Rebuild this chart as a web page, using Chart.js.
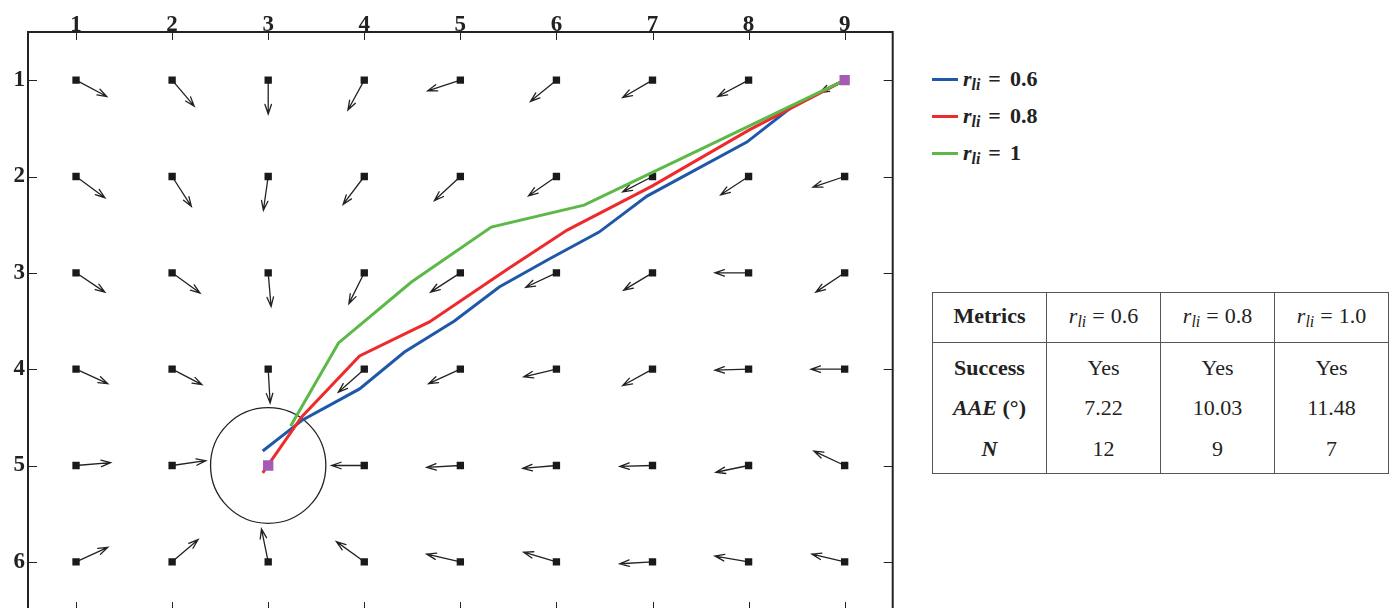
<!DOCTYPE html>
<html><head><meta charset="utf-8">
<script src="https://cdn.jsdelivr.net/npm/chart.js@4"></script>
<style>
html,body{margin:0;padding:0;width:1392px;height:608px;overflow:hidden;background:#fff;}
#wrap{position:absolute;left:0;top:0;width:900px;height:640px;}
.leg{position:absolute;left:932px;font:bold 22px 'Liberation Serif','Times New Roman',Times,serif;color:#222;height:24px;line-height:24px;white-space:nowrap;}
.leg .sw{display:inline-block;width:26px;height:3px;vertical-align:middle;margin-right:5px;position:relative;top:-1px;}
.leg sub,#tbl sub{font-size:0.72em;font-style:italic;vertical-align:-0.25em;line-height:0;}
.leg .eq{margin:0 9px 0 8px;font-weight:bold;}
#tbl{position:absolute;left:932px;top:292px;border-collapse:collapse;font:22px 'Liberation Serif','Times New Roman',Times,serif;color:#222;}
#tbl td{border-left:1px solid #555;border-right:1px solid #555;text-align:center;padding:0;width:113px;}
#tbl tr.h td{height:45px;padding-bottom:4px;border-top:1px solid #555;border-bottom:1px solid #555;}
#tbl tr.r1 td{height:42px;padding-top:4px;}
#tbl tr.r2 td{height:38px;padding-bottom:2px;}
#tbl tr.r3 td{height:40px;padding-bottom:4px;border-bottom:1px solid #555;}
#tbl .b{font-weight:bold;}
#tbl .eq{margin:0 6px;}
</style></head>
<body>
<div id="wrap"><canvas id="c" width="900" height="640"></canvas></div>
<div id="legend"></div>
<table id="tbl"></table>
<script>
// ---- data ----
const xCats = [1,2,3,4,5,6,7,8,9];
const yCats = [1,2,3,4,5,6];
// arrow components (data units) per row (y = 1..6), per column (x = 1..9)
const gridU = [
 [0.32,0.23,0.00,-0.17,-0.34,-0.27,-0.31,-0.32,-0.26],
 [0.30,0.20,-0.05,-0.22,-0.27,-0.29,-0.31,-0.29,-0.33],
 [0.30,0.29,0.03,-0.16,-0.31,-0.32,-0.30,-0.35,-0.30],
 [0.33,0.31,0.02,-0.27,-0.33,-0.34,-0.31,-0.35,-0.35],
 [0.36,0.35,null,-0.34,-0.35,-0.35,-0.34,-0.34,-0.32],
 [0.33,0.27,-0.07,-0.29,-0.35,-0.34,-0.34,-0.35,-0.34]
];
const gridV = [
 [0.17,0.27,0.35,0.31,0.11,0.22,0.18,0.17,0.13],
 [0.22,0.31,0.35,0.29,0.25,0.20,0.16,0.19,0.11],
 [0.20,0.21,0.35,0.32,0.20,0.15,0.18,0.00,0.20],
 [0.15,0.16,0.35,0.24,0.15,0.08,0.17,0.01,0.00],
 [-0.03,-0.05,null,0.00,0.02,0.03,0.01,0.07,-0.15],
 [-0.15,-0.23,-0.34,-0.21,-0.08,-0.10,0.02,-0.06,-0.08]
];
const goalPoint = [3,5];
const goalRadius = 0.6;
const startPoint = [9,1];
const blueX = [2.943,3.358,3.951,4.418,4.938,5.405,5.925,6.444,6.943,7.982,8.449,9];
const blueY = [4.849,4.527,4.205,3.822,3.500,3.147,2.857,2.577,2.203,1.643,1.280,1];
const redX = [2.943,3.348,3.951,4.678,5.509,6.112,6.995,8.003,9];
const redY = [5.077,4.496,3.863,3.510,2.950,2.556,2.100,1.519,1];
const greenX = [3.234,3.732,4.491,5.322,6.288,7.483,9];
const greenY = [4.589,3.728,3.095,2.525,2.297,1.726,1];
const seriesRatios = ['0.6','0.8','1'];
const seriesColors = ['#1f58a8','#ee2a2c','#5cb947'];
const tableRatios = ['0.6','0.8','1.0'];
const successRow = ['Yes','Yes','Yes'];
const aaeRow = ['7.22','10.03','11.48'];
const nRow = ['12','9','7'];

// ---- legend & table ----
const legCenters = [79,116,153];
document.getElementById('legend').innerHTML = seriesRatios.map((r,i)=>
 `<div class="leg" style="top:${legCenters[i]-12}px"><span class="sw" style="background:${seriesColors[i]}"></span><i>r</i><sub>li</sub><span class="eq">=</span>${r}</div>`).join('');
const rli = r => `<i>r</i><sub>li</sub><span class="eq">=</span>${r}`;
document.getElementById('tbl').innerHTML =
 `<tr class="h"><td class="b">Metrics</td>${tableRatios.map(r=>`<td>${rli(r)}</td>`).join('')}</tr>`+
 `<tr class="r1"><td class="b">Success</td>${successRow.map(v=>`<td>${v}</td>`).join('')}</tr>`+
 `<tr class="r2"><td class="b"><i>AAE</i> (°)</td>${aaeRow.map(v=>`<td>${v}</td>`).join('')}</tr>`+
 `<tr class="r3"><td class="b"><i>N</i></td>${nRow.map(v=>`<td>${v}</td>`).join('')}</tr>`;

// ---- chart ----
const toPts = (xs,ys) => xs.map((v,i)=>({x:v,y:ys[i]}));
const nodes = [];
yCats.forEach(yv=>xCats.forEach(xv=>nodes.push({x:xv,y:yv})));

const fieldPlugin = {
 id:'field',
 beforeDatasetsDraw(chart){
  const {ctx, scales:{x,y}} = chart;
  ctx.save();
  ctx.strokeStyle='#222'; ctx.lineWidth=1.3; ctx.lineCap='round';
  yCats.forEach((yv,j)=>xCats.forEach((xv,i)=>{
   const u=gridU[j][i], v=gridV[j][i];
   if(u===null) return;
   const x0=x.getPixelForValue(xv), y0=y.getPixelForValue(yv);
   const x1=x.getPixelForValue(xv+u), y1=y.getPixelForValue(yv+v);
   const a=Math.atan2(y1-y0,x1-x0), hl=10, ha=0.33;
   ctx.beginPath();
   ctx.moveTo(x0,y0); ctx.lineTo(x1,y1);
   ctx.moveTo(x1-hl*Math.cos(a-ha), y1-hl*Math.sin(a-ha));
   ctx.lineTo(x1,y1);
   ctx.lineTo(x1-hl*Math.cos(a+ha), y1-hl*Math.sin(a+ha));
   ctx.stroke();
  }));
  const cx=x.getPixelForValue(goalPoint[0]), cy=y.getPixelForValue(goalPoint[1]);
  const rx=x.getPixelForValue(goalPoint[0]+goalRadius)-cx;
  const ry=y.getPixelForValue(goalPoint[1]+goalRadius)-cy;
  ctx.lineWidth=1.3;
  ctx.beginPath(); ctx.ellipse(cx,cy,rx,Math.abs(ry),0,0,Math.PI*2); ctx.stroke();
  ctx.restore();
 },
 afterDraw(chart){
  const {ctx, chartArea:a, scales:{x,y}} = chart;
  ctx.save();
  ctx.strokeStyle='#222';
  ctx.lineWidth=1;
  ctx.beginPath();
  xCats.forEach(v=>{const p=Math.round(x.getPixelForValue(v))+0.5;
   ctx.moveTo(p,a.top); ctx.lineTo(p,a.top+8);
   ctx.moveTo(p,a.bottom); ctx.lineTo(p,a.bottom-8);});
  yCats.forEach(v=>{const p=Math.round(y.getPixelForValue(v))+0.5;
   ctx.moveTo(a.left,p); ctx.lineTo(a.left+9,p);
   ctx.moveTo(a.right,p); ctx.lineTo(a.right-9,p);});
  ctx.stroke();
  ctx.lineWidth=2;
  ctx.strokeRect(a.left,a.top,a.right-a.left,a.bottom-a.top);
  ctx.restore();
 }
};

const tickFont = {family:'Liberation Serif', weight:'bold', size:23};
new Chart(document.getElementById('c'), {
 type:'scatter',
 data:{datasets:[
  {label:'ends', data:[{x:goalPoint[0],y:goalPoint[1]},{x:startPoint[0],y:startPoint[1]}], pointStyle:'rect', pointRadius:7.3, backgroundColor:'#a55ab6', borderWidth:0},
  {label:'r=1', data:toPts(greenX,greenY), showLine:true, borderColor:seriesColors[2], borderWidth:3, pointRadius:0, fill:false},
  {label:'r=0.8', data:toPts(redX,redY), showLine:true, borderColor:seriesColors[1], borderWidth:3, pointRadius:0, fill:false},
  {label:'r=0.6', data:toPts(blueX,blueY), showLine:true, borderColor:seriesColors[0], borderWidth:3, pointRadius:0, fill:false},
  {label:'nodes', data:nodes, pointStyle:'rect', pointRadius:5.2, backgroundColor:'#1a1a1a', borderWidth:0}
 ]},
 options:{
  responsive:false, animation:false, events:[],
  layout:{padding:{top:0,left:0,right:6,bottom:30}},
  plugins:{legend:{display:false}, tooltip:{enabled:false}},
  scales:{
   x:{type:'linear', position:'top', min:0.5, max:9.5,
      afterBuildTicks:s=>{s.ticks=xCats.map(v=>({value:v}));},
      afterFit:s=>{s.height=32;},
      grid:{display:false, drawTicks:false}, border:{display:false},
      ticks:{font:tickFont, color:'#222', padding:-7, maxRotation:0, autoSkip:false, callback:v=>String(v)}},
   y:{type:'linear', position:'left', reverse:true, min:0.5, max:6.5,
      afterBuildTicks:s=>{s.ticks=yCats.map(v=>({value:v}));},
      afterFit:s=>{s.width=28;},
      grid:{display:false, drawTicks:false}, border:{display:false},
      ticks:{font:tickFont, color:'#222', padding:3, autoSkip:false, callback:v=>String(v)}}
  }
 },
 plugins:[fieldPlugin]
});
</script>
</body></html>
